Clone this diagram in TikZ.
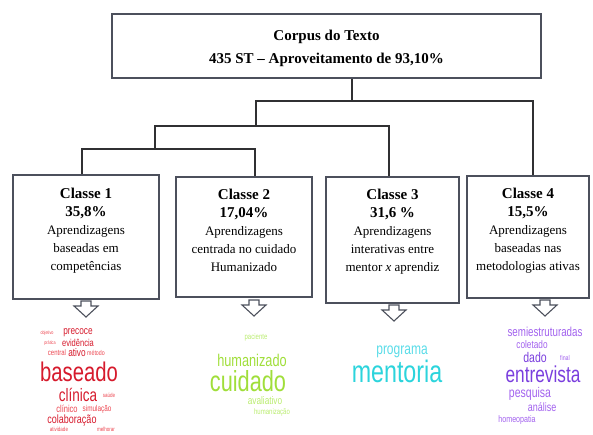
\documentclass[tikz,border=0pt]{standalone}
\usepackage{fontspec}
\setmainfont{Liberation Serif}
\newfontfamily\cloudfont[FakeStretch=0.75]{Liberation Sans}
\usepackage[dvipsnames]{xcolor}
\usetikzlibrary{positioning}

\definecolor{boxline}{RGB}{76,80,92}
\definecolor{treeline}{RGB}{48,48,50}
\definecolor{redA}{RGB}{214,26,44}
\definecolor{redB}{RGB}{236,70,80}
\definecolor{greenA}{RGB}{160,222,58}
\definecolor{greenB}{RGB}{186,236,112}
\definecolor{cyanA}{RGB}{44,212,220}
\definecolor{cyanB}{RGB}{90,220,232}
\definecolor{violetA}{RGB}{122,62,222}
\definecolor{violetB}{RGB}{162,98,238}

\tikzset{
  topbox/.style={draw=boxline, line width=1.8pt},
  toptext/.style={align=center, inner sep=0pt,
    font=\fontsize{15}{23}\selectfont\bfseries},
  classbox/.style={draw=boxline, line width=1.6pt, inner sep=0pt},
  classtext/.style={align=center, inner sep=0pt,
    font=\fontsize{13}{18}\selectfont},
  tree/.style={draw=treeline, line width=1.5pt},
  hollow/.style={draw=boxline, line width=1.1pt, line join=miter},
  wd/.style 2 args={inner sep=0pt, text=#1,
    font=\cloudfont\fontsize{#2}{#2}\selectfont}
}
\newcommand{\hd}[1]{{\fontsize{15}{18}\selectfont\bfseries #1}}

\begin{document}
\begin{tikzpicture}[x=1pt, y=-1pt]
  \useasboundingbox (0,0) rectangle (593,434);

  % corpus
  \node[topbox, minimum width=429pt, minimum height=64pt] (corpus) at (326.5,46) {};
  \node[toptext] (ct) at ([yshift=-2.5pt]corpus.center)
    {Corpus do Texto\\435 ST -- Aproveitamento de 93,10\%};

  % classes
  \node[classbox, minimum width=146pt, minimum height=124pt] (c1) at (86,237) {};
  \node[classbox, minimum width=136pt, minimum height=120pt] (c2) at (244,237) {};
  \node[classbox, minimum width=133pt, minimum height=126pt] (c3) at (392.5,240) {};
  \node[classbox, minimum width=122pt, minimum height=122pt] (c4) at (528,237) {};

  \node[classtext, below=14pt of c1.north] (t1)
    {\hd{Classe 1}\\\hd{35,8\%}\\Aprendizagens\\baseadas em\\competências};
  \node[classtext, below=13pt of c2.north] (t2)
    {\hd{Classe 2}\\\hd{17,04\%}\\Aprendizagens\\centrada no cuidado\\Humanizado};
  \node[classtext, below=13pt of c3.north] (t3)
    {\hd{Classe 3}\\\hd{31,6 \%}\\Aprendizagens\\interativas entre\\mentor \textit{x} aprendiz};
  \node[classtext, below=13pt of c4.north] (t4)
    {\hd{Classe 4}\\\hd{15,5\%}\\Aprendizagens\\baseadas nas\\metodologias ativas};

  % dendrogram
  \coordinate (j1) at (352,101);
  \coordinate (j2) at (256,126);
  \coordinate (j3) at (155,149);
  \coordinate (k1) at ([xshift=-4pt]c1.north);
  \coordinate (k2) at ([xshift=11pt]c2.north);
  \coordinate (k3) at ([xshift=-3.5pt]c3.north);
  \coordinate (k4) at ([xshift=5pt]c4.north);

  \draw[tree] (j1 |- corpus.south) -- (j1);
  \draw[tree] (j2) |- (j1) -| (k4);
  \draw[tree] (j3) |- (j2) -| (k3);
  \draw[tree] (k1) |- (j3) -| (k2);

  % arrows to the clouds
  \coordinate (a1) at (86,301);
  \coordinate (a2) at (254,300);
  \coordinate (a3) at (394,305);
  \coordinate (a4) at (545,300);
  \foreach \a in {a1,a2,a3,a4}
    \draw[hollow] (\a) ++(-5,0) -- ++(0,5) -- ++(-7,0) -- ++(12,11)
      -- ++(12,-11) -- ++(-7,0) -- ++(0,-5) -- cycle;

  % cloud 1
  \node[wd={redB}{5}] (w11) at (47,333) {objetivo};
  \node[wd={redA}{11}] (w12) at (78,333) {precoce};
  \node[wd={redB}{5}] (w13) at (50,343) {prática};
  \node[wd={redA}{10}] (w14) at (78,343) {evidência};
  \node[wd={redB}{8}] (w15) at (57,353) {central};
  \node[wd={redA}{11}] (w16) at (77,353) {ativo};
  \node[wd={redB}{7}] (w17) at (96,353) {método};
  \node[wd={redA}{27}] (w18) at (79,372) {baseado};
  \node[wd={redA}{18}] (w19) at (78,395) {clínica};
  \node[wd={redB}{6}] (w110) at (109,395) {saúde};
  \node[wd={redB}{10}] (w111) at (67,409) {clínico};
  \node[wd={redB}{8.5}] (w112) at (97,409) {simulação};
  \node[wd={redA}{12}] (w113) at (72,420) {colaboração};
  \node[wd={redB}{6}] (w114) at (59,429) {atividade};
  \node[wd={redB}{6}] (w115) at (106,429) {melhorar};

  % cloud 2
  \node[wd={greenB}{8}] (w21) at (256,337) {paciente};
  \node[wd={greenA}{17}] (w22) at (252,360) {humanizado};
  \node[wd={greenA}{29}] (w23) at (248,381) {cuidado};
  \node[wd={greenB}{11}] (w24) at (265,401) {avaliativo};
  \node[wd={greenB}{8}] (w25) at (272,412) {humanização};

  % cloud 3
  \node[wd={cyanB}{16}] (w31) at (402,352) {programa};
  \node[wd={cyanA}{31}] (w32) at (397,371) {mentoria};

  % cloud 4
  \node[wd={violetB}{13}] (w41) at (545,332) {semiestruturadas};
  \node[wd={violetB}{11}] (w42) at (532,345) {coletado};
  \node[wd={violetA}{14}] (w43) at (535,357) {dado};
  \node[wd={violetB}{7}] (w44) at (565,358) {final};
  \node[wd={violetA}{23}] (w45) at (543,374) {entrevista};
  \node[wd={violetB}{14}] (w46) at (530,394) {pesquisa};
  \node[wd={violetB}{12}] (w47) at (542,407) {análise};
  \node[wd={violetB}{9.5}] (w48) at (517,420) {homeopatia};
\end{tikzpicture}
\end{document}
